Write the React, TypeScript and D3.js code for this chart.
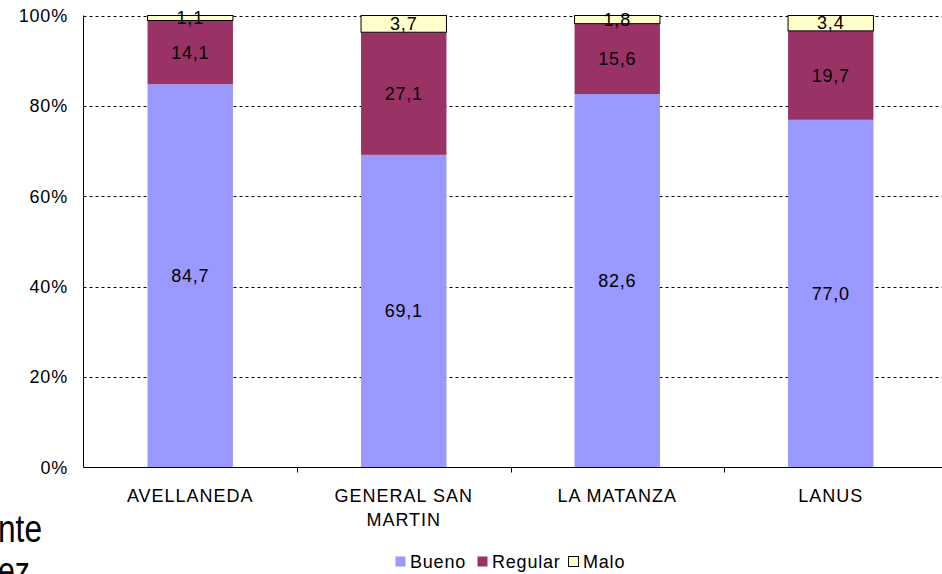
import React from "react";
import * as d3 from "d3";

const categories = ["AVELLANEDA", "GENERAL SAN\nMARTIN", "LA MATANZA", "LANUS"];
const seriesNames = ["Bueno", "Regular", "Malo"];
const bueno = [84.7, 69.1, 82.6, 77.0];
const regular = [14.1, 27.1, 15.6, 19.7];
const malo = [1.1, 3.7, 1.8, 3.4];
const yTicks = [0, 20, 40, 60, 80, 100];
const colors = ["#9999FF", "#993366", "#FFFFCC"];

const W = 942;
const H = 574;
const FONT = "'Liberation Sans', Arial, sans-serif";
const FS = 18;
const LS = 0.8;

export default function App() {
  const left = 83.5;
  const right = 937.5;
  const top = 15.5;
  const bottom = 467.5;

  const x = d3.scaleBand<string>().domain(categories).range([left, right]).paddingInner(0.6).paddingOuter(0.3);
  const xOuter = d3.scaleBand<string>().domain(categories).range([left, right]);
  const y = d3.scaleLinear().domain([0, 100]).range([bottom, top]);

  const rows = categories.map((c, i) => ({ cat: c, Bueno: bueno[i], Regular: regular[i], Malo: malo[i] }));
  const stacked = d3.stack<any>().keys(seriesNames).offset(d3.stackOffsetExpand)(rows);

  const fmt = (v: number) => v.toFixed(1).replace(".", ",");

  return (
    <svg width={W} height={H} style={{ position: "absolute", left: 0, top: 0, background: "#fff" }} fontFamily={FONT}>
      <rect x={0} y={0} width={W} height={H} fill="#fff" />
      {/* gridlines */}
      {yTicks.filter((t) => t > 0).map((t) => (
        <line key={t} x1={left} x2={W} y1={Math.round(y(t)) + 0.5} y2={Math.round(y(t)) + 0.5} stroke="#000" strokeWidth={1} strokeDasharray="3,3" />
      ))}
      {/* bars */}
      {stacked.map((s, si) =>
        s.map((d, i) => {
          const bx = x(categories[i])!;
          const y0 = y(d[0] * 100);
          const y1 = y(d[1] * 100);
          return (
            <rect
              key={si + "-" + i}
              x={bx}
              y={y1}
              width={x.bandwidth()}
              height={y0 - y1}
              fill={colors[si]}
              stroke={si === 2 ? "#000" : "none"}
              strokeWidth={1}
            />
          );
        })
      )}
      {/* value labels */}
      {stacked.map((s, si) =>
        s.map((d, i) => {
          const bx = x(categories[i])! + x.bandwidth() / 2;
          const yc = (y(d[0] * 100) + y(d[1] * 100)) / 2;
          const vals = [bueno, regular, malo][si];
          return (
            <text key={"l" + si + "-" + i} x={bx} y={yc} dy="0.35em" textAnchor="middle" fontSize={FS} letterSpacing={LS} fill="#000">
              {fmt(vals[i])}
            </text>
          );
        })
      )}
      {/* axes */}
      <line x1={left} x2={left} y1={top} y2={bottom} stroke="#000" strokeWidth={1} />
      <line x1={left} x2={W} y1={bottom} y2={bottom} stroke="#000" strokeWidth={1} />
      {categories.map((c, i) => {
        const tx = Math.round(xOuter(c)!) + 0.5;
        return i > 0 ? <line key={"t" + i} x1={tx} x2={tx} y1={bottom} y2={bottom + 5} stroke="#000" /> : null;
      })}
      {yTicks.map((t) => (
        <text key={"y" + t} x={68} y={y(t)} dy="0.35em" textAnchor="end" fontSize={FS} letterSpacing={LS} fill="#000">
          {t + "%"}
        </text>
      ))}
      {categories.map((c, i) => {
        const cx = xOuter(c)! + xOuter.bandwidth() / 2;
        return (
          <text key={"c" + i} x={cx} y={502} textAnchor="middle" fontSize={FS} letterSpacing={LS + 0.2} fill="#000">
            {c.split("\n").map((line, li) => (
              <tspan key={li} x={cx} dy={li === 0 ? 0 : 24}>
                {line}
              </tspan>
            ))}
          </text>
        );
      })}
      {/* legend */}
      {seriesNames.map((n, i) => {
        const lx = [395, 477, 568][i];
        return (
          <g key={"lg" + n}>
            <rect x={lx + 0.5} y={556.5} width={10} height={10} fill={colors[i]} stroke={i === 2 ? "#000" : "none"} />
            <text x={lx + 15} y={568} fontSize={FS} letterSpacing={LS} fill="#000">
              {n}
            </text>
          </g>
        );
      })}
      {/* fragment of surrounding slide text */}
      <text x={-2} y={542} fontSize={38} fill="#000" textLength={44} lengthAdjust="spacingAndGlyphs">
        nte
      </text>
      <text x={-2} y={584} fontSize={38} fill="#000" textLength={32} lengthAdjust="spacingAndGlyphs">
        ez
      </text>
    </svg>
  );
}
